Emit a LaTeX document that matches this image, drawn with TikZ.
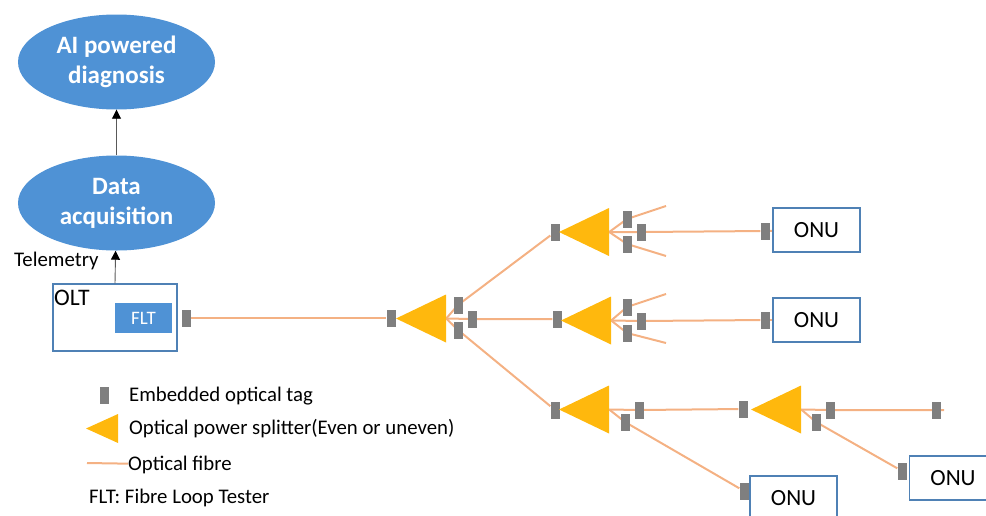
\documentclass[tikz,border=0pt]{standalone}
\usepackage{fontspec}
\setmainfont{Carlito}
\usetikzlibrary{arrows.meta,backgrounds,shapes.geometric}
\definecolor{cloudblue}{HTML}{4F92D5}
\definecolor{boxblue}{HTML}{4F81B5}
\definecolor{tagGray}{HTML}{7F7F7F}
\definecolor{fibreOrange}{HTML}{F4B183}
\definecolor{splitterYellow}{HTML}{FFB80D}
\begin{document}
\begin{tikzpicture}[
    x = 1pt, y = -1pt,
    font = \fontsize{20.8}{24}\selectfont,
    cloud/.style = {
      ellipse,
      fill = cloudblue,
      text = white,
      align = center,
      inner sep = 0,
      minimum width = 197pt,
      minimum height = 95pt,
      font = \fontsize{25}{30}\selectfont\bfseries,
    },
    olt/.style = {
      rectangle,
      draw = boxblue, line width = 1.2pt,
      minimum width = 124pt,
      minimum height = 67pt,
    },
    flt/.style = {
      rectangle,
      fill = cloudblue,
      text = white,
      minimum width = 57pt,
      minimum height = 30pt,
      font = \fontsize{19}{21}\selectfont,
    },
    onu/.style = {
      rectangle,
      draw = boxblue, line width = 1.2pt,
      minimum width = 87pt,
      minimum height = 44pt,
      font = \fontsize{23.2}{26}\selectfont,
    },
    tag/.style = {
      rectangle,
      fill = tagGray,
      inner sep = 0,
      minimum width = 9pt,
      minimum height = 17pt,
    },
    splitter/.style = {
      isosceles triangle,
      isosceles triangle stretches,
      shape border rotate = 180,
      anchor = apex,
      fill = splitterYellow,
      inner sep = 0,
      minimum width = 48pt,
      minimum height = 50pt,
    },
    fibre/.style = {
      draw = fibreOrange,
      line width = 2pt,
    },
    label/.style = {
      anchor = west,
      inner sep = 0,
    },
    updata/.style = {
      draw = black!65,
      line width = .9pt,
      -{Triangle[length = 9pt, width = 9pt, black]},
    },
  ]
  \clip (0,0) rectangle (986,515);
  % upper part
  \node[cloud] (ai) at (116.5,62) {AI powered\\diagnosis};
  \node[cloud] (acq) at (116.5,203) {Data\\acquisition};
  \node[olt] (oltbox) at (115,317.5) {};
  \node[flt] (fltbox) at (143.5,318) {FLT};
  \node[label, font = \fontsize{23.7}{26}\selectfont] (oltname) at (54,298) {OLT};
  \node[label] (telemetry) at (14,261) {Telemetry};

  % tags and splitters, first stage
  \node[tag] (tolt) at (186,318) {};
  \node[tag] (tin) at (391,318) {};
  \node[splitter] (sa) at (395.5,318.5) {};
  \node[tag] (ta1) at (458,305) {};
  \node[tag] (ta2) at (472,319) {};
  \node[tag] (ta3) at (458,330) {};

  % upper branch
  \node[tag] (tb) at (555,232) {};
  \node[splitter] (sb) at (558.5,232) {};
  \node[tag] (tb1) at (627,219) {};
  \node[tag] (tb2) at (641,232) {};
  \node[tag] (tb3) at (627,244) {};
  \node[tag] (tbo) at (765,231) {};
  \node[onu] (onua) at (816.5,230) {ONU};
  \coordinate (bup) at (666,206);
  \coordinate (bdown) at (666,256);

  % middle branch
  \node[tag] (tc) at (557,319) {};
  \node[splitter] (sc) at (560.5,320.5) {};
  \node[tag] (tc1) at (627,307) {};
  \node[tag] (tc2) at (641,321) {};
  \node[tag] (tc3) at (627,333) {};
  \node[tag] (tco) at (765,320) {};
  \node[onu] (onub) at (816.5,320) {ONU};
  \coordinate (cup) at (666,294);
  \coordinate (cdown) at (666,343);

  % lower branch
  \node[tag] (td) at (555,410) {};
  \node[splitter] (sd) at (558.5,409.5) {};
  \node[tag] (td1) at (639,410) {};
  \node[tag] (td2) at (625,422) {};
  \node[tag] (te) at (743,409) {};
  \node[splitter] (se) at (750.5,409.5) {};
  \node[tag] (te1) at (830,410) {};
  \node[tag] (te2) at (816,422) {};
  \node[tag] (tend) at (936,410) {};
  \coordinate (fend) at (944,410);
  \node[tag] (teo) at (902,471) {};
  \node[onu] (onuc) at (953,478) {ONU};
  \node[tag] (tdo) at (744,491) {};
  \node[onu] (onud) at (793.5,498) {ONU};

  % legend
  \node[tag] (legtag) at (104,395) {};
  \node[label] (legtagtext) at (129,396.5) {Embedded optical tag};
  \node[splitter, minimum width = 29pt, minimum height = 32pt] (legsplit) at (85.5,428.5) {};
  \node[label] (legsplittext) at (129,428.5) {Optical power splitter(Even or uneven)};
  \coordinate (legfibre) at (87,463);
  \node[label] (legfibretext) at (128,464.5) {Optical fibre};
  \node[label] (legflt) at (89,497.5) {FLT: Fibre Loop Tester};

  \draw[updata] (acq) -- (ai);
  \draw[updata] (oltbox.north) -- (acq);

  \begin{scope}[on background layer]
    \draw[fibre] (tolt) -- (tin);
    \draw[fibre] (sa.lower side) -- (ta1.center) -- (tb);
    \draw[fibre] (sa.lower side) -- (ta2.center) -- (tc);
    \draw[fibre] (sa.lower side) -- (ta3.center) -- (td);
    \draw[fibre] (sb.lower side) -- (tb1.center) -- (bup);
    \draw[fibre] (sb.lower side) -- (tb2.center) -- (tbo);
    \draw[fibre] (sb.lower side) -- (tb3.center) -- (bdown);
    \draw[fibre] (tbo) -- (onua);
    \draw[fibre] (sc.lower side) -- (tc1.center) -- (cup);
    \draw[fibre] (sc.lower side) -- (tc2.center) -- (tco);
    \draw[fibre] (sc.lower side) -- (tc3.center) -- (cdown);
    \draw[fibre] (tco) -- (onub);
    \draw[fibre] (sd.lower side) -- (td1.center) -- (te);
    \draw[fibre] (sd.lower side) -- (td2.center) -- (tdo);
    \draw[fibre] (se.lower side) -- (te1.center) -- (tend.center) -- (fend);
    \draw[fibre] (se.lower side) -- (te2.center) -- (teo);
    \draw[fibre] (legfibre) -- (legfibretext);
  \end{scope}
\end{tikzpicture}
\end{document}
